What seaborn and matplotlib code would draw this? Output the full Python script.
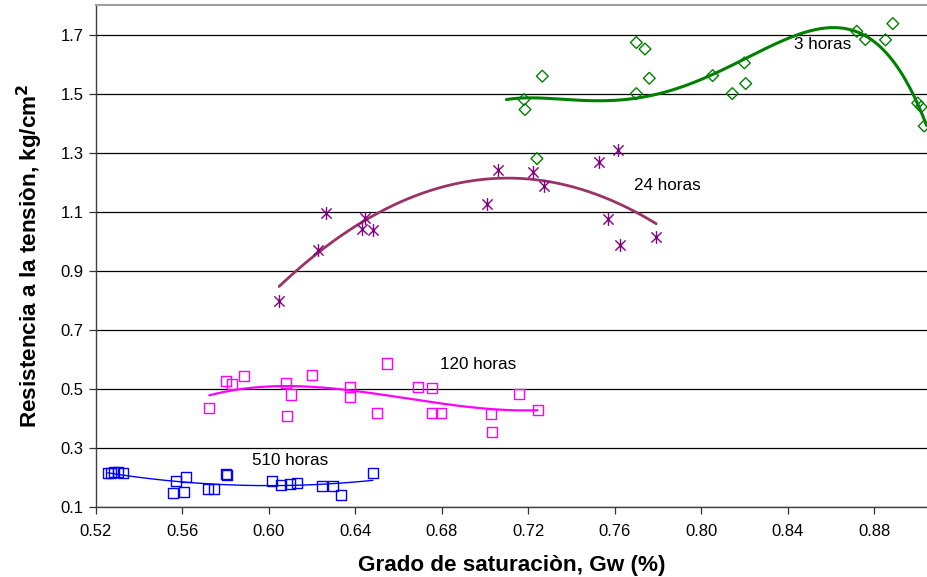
import numpy as np
import pandas as pd
import matplotlib
matplotlib.use("Agg")
import matplotlib.pyplot as plt
from matplotlib.path import Path
import seaborn as sns

# ---- data ----
x_3h = [0.718, 0.7185, 0.7265, 0.7700, 0.7740, 0.7760, 0.7700, 0.8053, 0.8200,
        0.8206, 0.8144, 0.8720, 0.8760, 0.8853, 0.8887, 0.9002, 0.9018, 0.9032, 0.7240]
y_3h = [1.480, 1.446, 1.559, 1.673, 1.651, 1.552, 1.500, 1.561, 1.604,
        1.534, 1.500, 1.711, 1.683, 1.682, 1.737, 1.468, 1.455, 1.390, 1.280]

# trend line of the 3-hour series
trend_3h_x = [0.7099, 0.7187, 0.7303, 0.7457, 0.7580, 0.7719, 0.7842, 0.7965,
              0.8088, 0.8196, 0.8350, 0.8473, 0.8612, 0.8704, 0.8797, 0.8905,
              0.8982, 0.9043]
trend_3h_y = [1.480, 1.485, 1.484, 1.477, 1.476, 1.485, 1.508, 1.542,
              1.575, 1.610, 1.672, 1.709, 1.724, 1.715, 1.672, 1.593,
              1.502, 1.389]

x_24h = [0.6047, 0.6227, 0.6263, 0.6443, 0.6429, 0.6483, 0.7011, 0.7059,
         0.7222, 0.7273, 0.7527, 0.7614, 0.7568, 0.7624, 0.7792]
y_24h = [0.798, 0.969, 1.095, 1.078, 1.042, 1.039, 1.125, 1.240,
         1.233, 1.188, 1.268, 1.308, 1.075, 0.988, 1.015]

x_120h = [0.5724, 0.5801, 0.5828, 0.5885, 0.6081, 0.6104, 0.6083, 0.6198, 0.6548,
          0.6375, 0.6377, 0.6502, 0.6690, 0.6753, 0.6754, 0.6794, 0.7027, 0.7030,
          0.7155, 0.7243]
y_120h = [0.435, 0.528, 0.517, 0.544, 0.521, 0.481, 0.407, 0.547, 0.586,
          0.505, 0.472, 0.420, 0.506, 0.502, 0.420, 0.420, 0.415, 0.355,
          0.483, 0.429]

x_510h = [0.5254, 0.5269, 0.5285, 0.5300, 0.5325, 0.5554, 0.5572, 0.5605, 0.5616,
          0.5716, 0.5747, 0.5802, 0.5805, 0.6013, 0.6055, 0.6098, 0.6129, 0.6246,
          0.6298, 0.6335, 0.6481]
y_510h = [0.214, 0.214, 0.219, 0.219, 0.215, 0.148, 0.187, 0.151, 0.203,
          0.161, 0.162, 0.212, 0.210, 0.187, 0.173, 0.177, 0.180, 0.171,
          0.172, 0.141, 0.214]

labels = ["3 horas", "24 horas", "120 horas", "510 horas"]
x_ticks = [0.52, 0.56, 0.60, 0.64, 0.68, 0.72, 0.76, 0.80, 0.84, 0.88]
y_ticks = [0.1, 0.3, 0.5, 0.7, 0.9, 1.1, 1.3, 1.5, 1.7]

sns.set_theme(style="white")
plt.rcParams["font.family"] = ["Liberation Sans", "DejaVu Sans"]
plt.rcParams["text.color"] = "black"
plt.rcParams["axes.labelcolor"] = "black"
plt.rcParams["xtick.color"] = "black"
plt.rcParams["ytick.color"] = "black"

fig = plt.figure(figsize=(9.27, 5.77), dpi=100)
ax = fig.add_axes([0.1036, 0.1213, 0.8964, 0.8700])

def trend(x, y, order, x0, x1):
    p = np.polynomial.Polynomial.fit(x, y, order)
    xs = np.linspace(x0, x1, 300)
    return pd.DataFrame({"x": xs, "y": p(xs)})

# asterisk marker (X plus vertical stroke)
ast = Path([(0, -1), (0, 1), (-0.8, -0.8), (0.8, 0.8), (-0.8, 0.8), (0.8, -0.8)],
           [Path.MOVETO, Path.LINETO, Path.MOVETO, Path.LINETO, Path.MOVETO, Path.LINETO])

# trend lines
t3 = trend(trend_3h_x, trend_3h_y, 6, min(trend_3h_x), max(trend_3h_x))
sns.lineplot(data=t3, x="x", y="y", ax=ax, color="#008000", lw=2.2, sort=False)
t24 = trend(x_24h, y_24h, 2, min(x_24h), max(x_24h))
sns.lineplot(data=t24, x="x", y="y", ax=ax, color="#993366", lw=2.0, sort=False)
t120 = trend(x_120h, y_120h, 3, min(x_120h), max(x_120h))
sns.lineplot(data=t120, x="x", y="y", ax=ax, color="#FF00FF", lw=1.6, sort=False)
t510 = trend(x_510h, y_510h, 2, min(x_510h), max(x_510h))
sns.lineplot(data=t510, x="x", y="y", ax=ax, color="#0000FF", lw=1.0, sort=False)

# markers
sns.scatterplot(x=x_3h, y=y_3h, ax=ax, marker="D", s=36, facecolor="none",
                edgecolor="#008000", linewidth=1.0, zorder=3)
ax.scatter(x_24h, y_24h, marker=ast, s=85, color="#800080", linewidths=1.0, zorder=3)
sns.scatterplot(x=x_120h, y=y_120h, ax=ax, marker="s", s=52, facecolor="none",
                edgecolor="#FF00FF", linewidth=1.0, zorder=3)
sns.scatterplot(x=x_510h, y=y_510h, ax=ax, marker="s", s=52, facecolor="none",
                edgecolor="#0000FF", linewidth=1.0, zorder=3)

# series labels
ax.text(0.8564, 1.666, labels[0], fontsize=12.3, ha="center", va="center")
ax.text(0.7842, 1.188, labels[1], fontsize=12.3, ha="center", va="center")
ax.text(0.6970, 0.581, labels[2], fontsize=12.3, ha="center", va="center")
ax.text(0.6097, 0.256, labels[3], fontsize=12.3, ha="center", va="center")

ax.set_xlim(0.52, 0.9045)
ax.set_ylim(0.1, 1.8)
ax.set_xticks(x_ticks)
ax.set_xticklabels([f"{v:.2f}" for v in x_ticks])
ax.set_yticks(y_ticks)
ax.set_yticklabels([f"{v:.1f}" for v in y_ticks])
ax.yaxis.grid(True, color="black", lw=0.9)
ax.xaxis.grid(False)
ax.set_axisbelow(True)
ax.tick_params(axis="both", which="major", direction="out", length=5, width=0.9,
               color="#333333", labelsize=12, bottom=True, left=True)
ax.tick_params(axis="x", pad=7)
ax.tick_params(axis="y", pad=4)
for s in ["left", "bottom"]:
    ax.spines[s].set_color("#404040")
    ax.spines[s].set_linewidth(1.0)
ax.spines["top"].set_color("#a0a0a0")
ax.spines["top"].set_linewidth(1.5)
ax.spines["right"].set_visible(False)

ax.set_xlabel("Grado de saturaciòn, Gw (%)", fontsize=16.2, fontweight="bold", labelpad=12)
ax.set_ylabel("Resistencia a la tensiòn, kg/cm$^\\mathbf{2}$", fontsize=16.2,
              fontweight="bold", labelpad=11)

fig.savefig("out.png", dpi=100)
